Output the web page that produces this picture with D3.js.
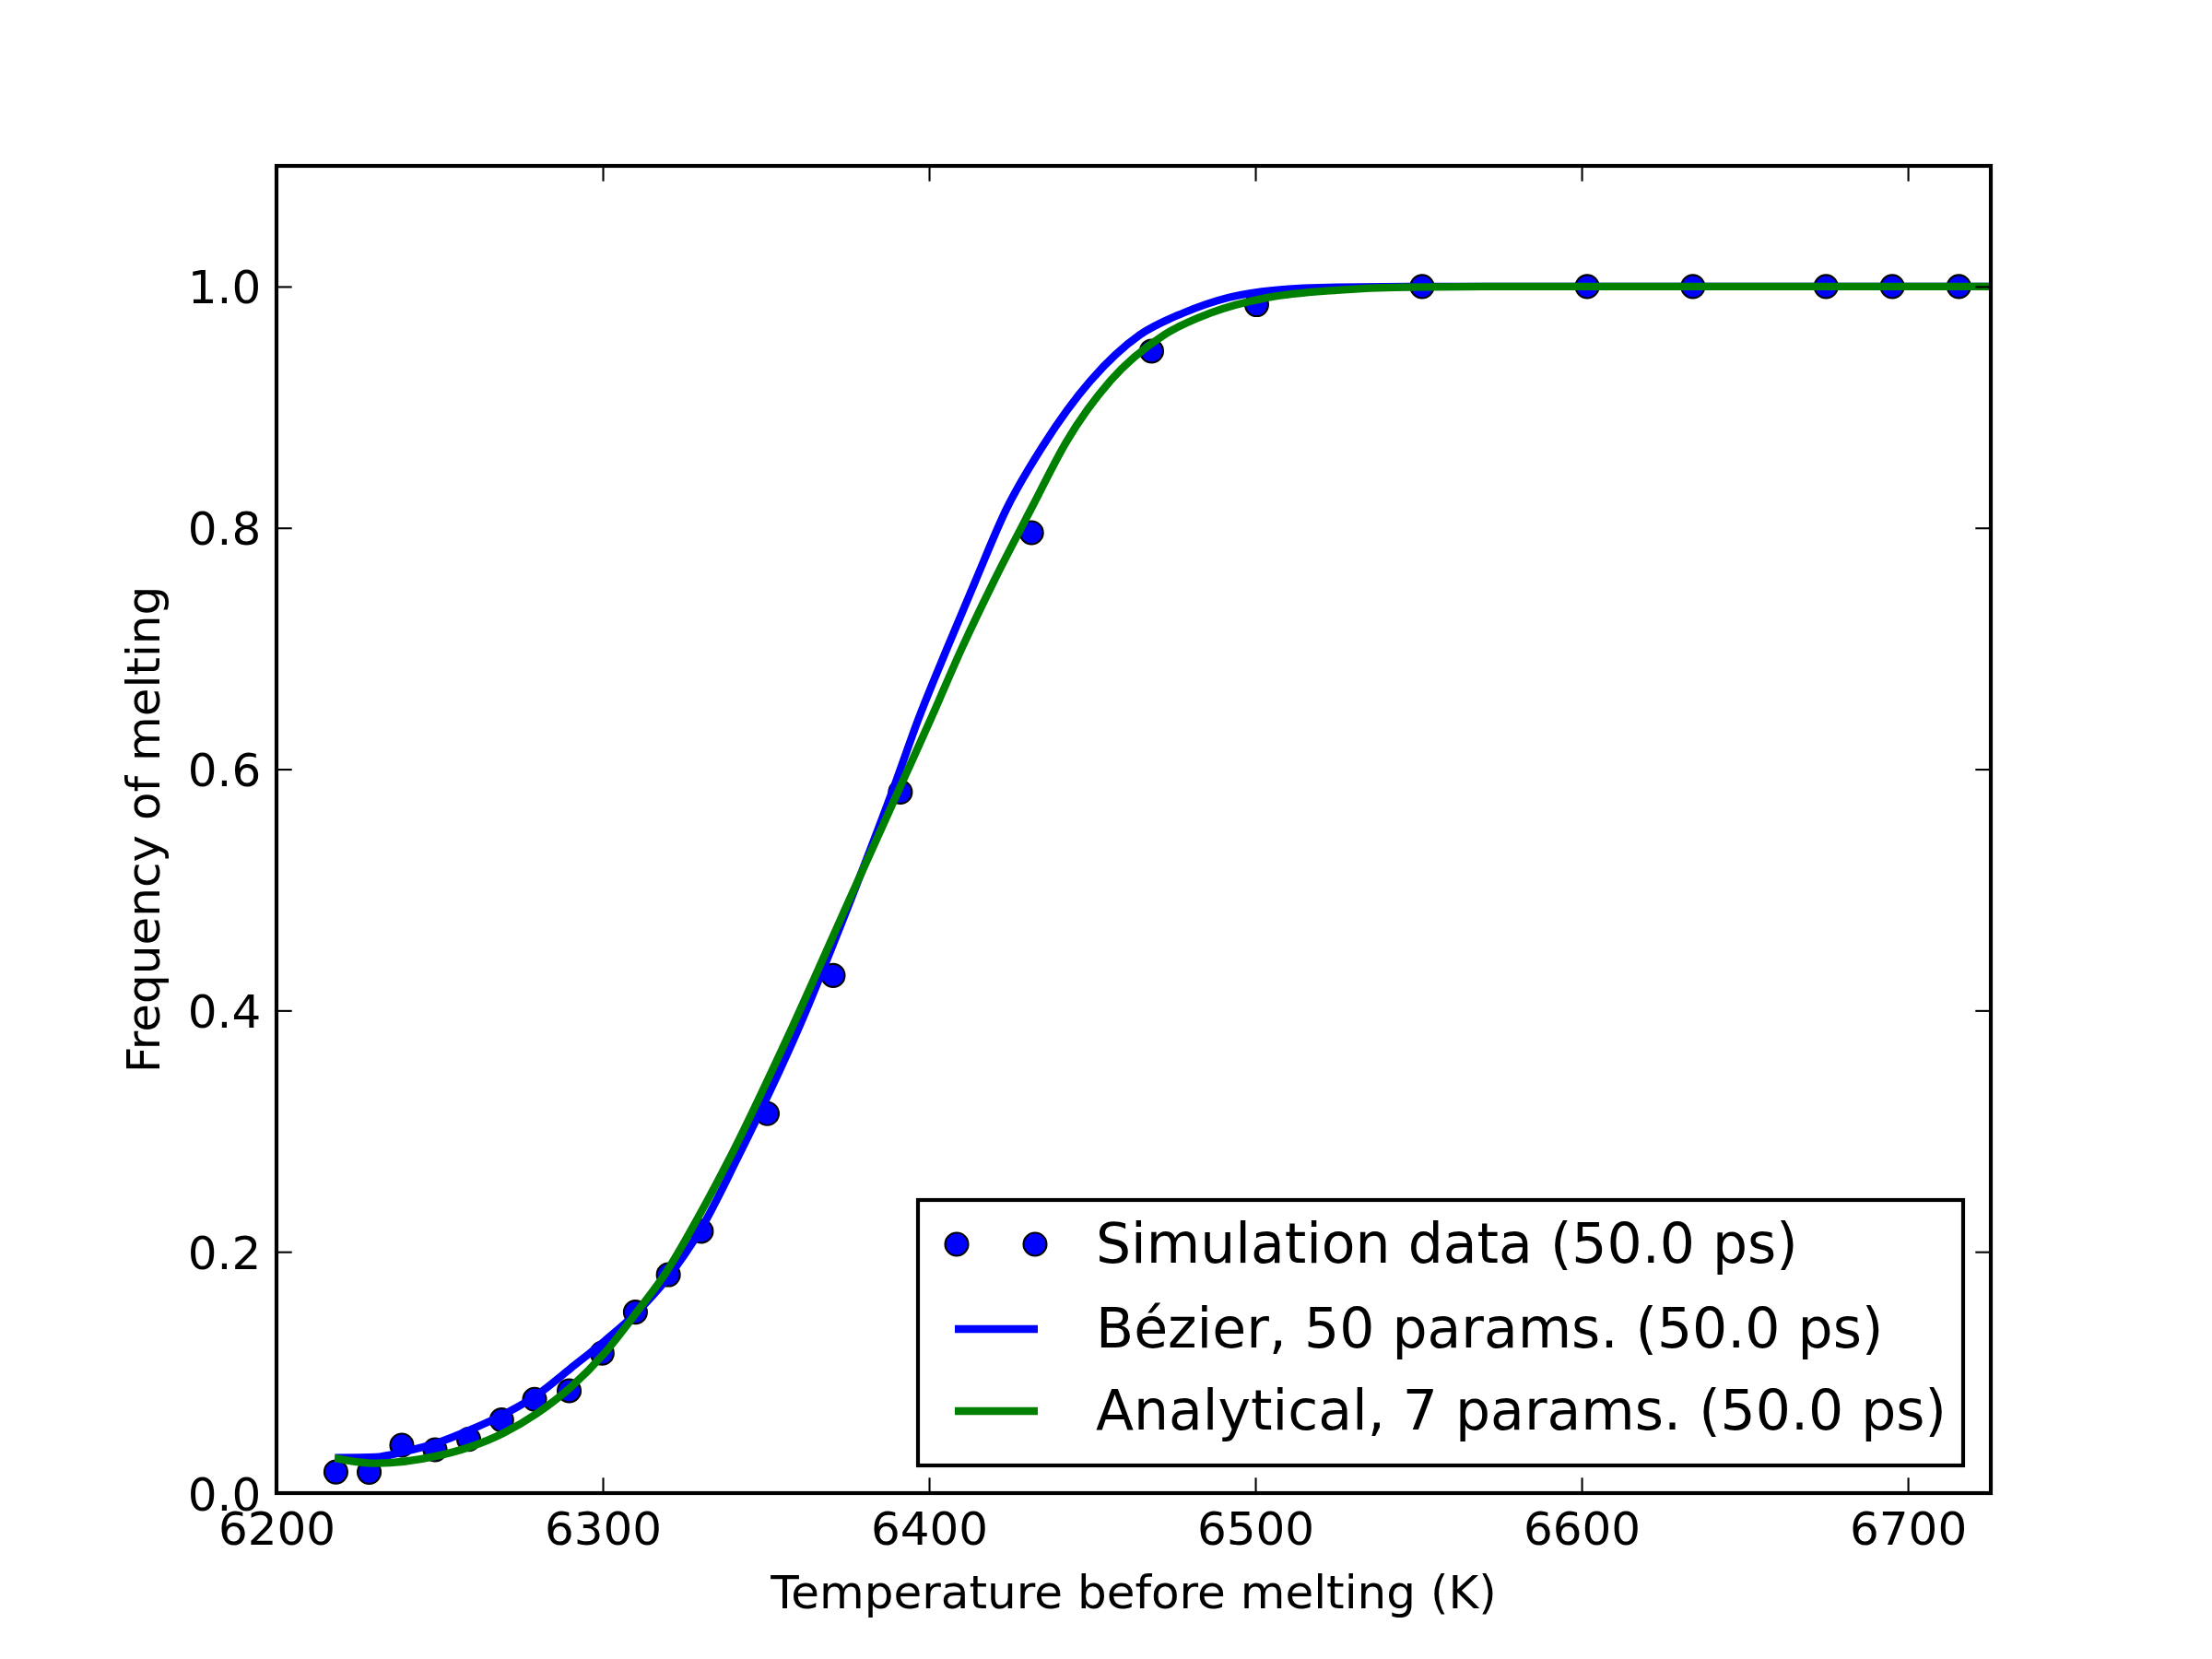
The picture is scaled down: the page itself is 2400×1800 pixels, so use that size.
<!DOCTYPE html>
<html>
<head>
<meta charset="utf-8">
<script src="https://d3js.org/d3.v7.min.js"></script>
<style>
  body { margin: 0; background: #fff; }
  svg { font-family: "DejaVu Sans", sans-serif; }
</style>
</head>
<body>
<svg width="2400" height="1800"></svg>
<script>
// シミュレーション点 (温度, 融解頻度)
const simT = [6218.2, 6228.4, 6238.4, 6248.6, 6258.9, 6269.0, 6279.1, 6289.7, 6299.8, 6310.0,
    6320.1, 6330.2, 6350.4, 6370.6, 6391.2, 6431.4, 6468.2, 6500.4, 6551.1, 6601.7,
    6634.1, 6674.9, 6695.2, 6715.6];
const simY = [0.0175, 0.0173, 0.0397, 0.0359, 0.0446, 0.0606, 0.0777, 0.0848, 0.116, 0.150,
    0.181, 0.217, 0.3145, 0.429, 0.581, 0.796, 0.9465, 0.985, 1.0, 1.0,
    1.0, 1.0, 1.0, 1.0];

// Bézier fit
const bezT = [6217.9, 6230.4, 6239.1, 6248.9, 6259.2, 6269.5, 6279.9, 6290.2, 6300.5, 6310.5,
    6319.5, 6330.4, 6340.8, 6360.3, 6375.6, 6390.0, 6396.8, 6405.5, 6414.2, 6423.6,
    6434.9, 6449.5, 6464.6, 6477.8, 6491.9, 6506, 6525, 6550, 6600, 6726];
const bezY = [0.0293, 0.0298, 0.0344, 0.0413, 0.0522, 0.065, 0.0815, 0.1035, 0.126, 0.150,
    0.1771, 0.2203, 0.275, 0.387, 0.489, 0.591, 0.642, 0.70, 0.756, 0.815,
    0.868, 0.922, 0.960, 0.978, 0.991, 0.997, 0.9995, 1.0, 1.0, 1.0];

// Analytical fit
const anaT = [6217.9, 6230.4, 6248.9, 6259.2, 6269.5, 6279.9, 6290.2, 6300.5, 6310.5, 6319.5,
    6330.4, 6338.4, 6358.2, 6375.1, 6392.1, 6400.6, 6410, 6419.9, 6432.1, 6442,
    6455.6, 6472.1, 6486.2, 6504.1, 6524.9, 6545, 6570, 6600, 6726];
const anaY = [0.029, 0.0247, 0.0306, 0.0382, 0.0497, 0.0662, 0.0878, 0.1159, 0.1503, 0.1834,
    0.2343, 0.275, 0.387, 0.489, 0.591, 0.642, 0.70, 0.756, 0.820, 0.871,
    0.922, 0.960, 0.978, 0.991, 0.997, 0.9995, 1.0, 1.0, 1.0];

const xTicks = [6200, 6300, 6400, 6500, 6600, 6700];
const yTicks = [0.0, 0.2, 0.4, 0.6, 0.8, 1.0];
const legendLabels = [
    "Simulation data (50.0 ps)",
    "Bézier, 50 params. (50.0 ps)",
    "Analytical, 7 params. (50.0 ps)",
];

const svg = d3.select("svg");
const margin = { top: 180, right: 240, bottom: 180, left: 300 };
const width = Number(svg.attr("width")) - margin.left - margin.right;
const height = Number(svg.attr("height")) - margin.top - margin.bottom;
const g = svg.append("g")
    .attr("transform", `translate(${margin.left},${margin.top})`);

const xScale = d3.scaleLinear().domain([6200, 6725.4]).range([0, width]);
const yScale = d3.scaleLinear().domain([0, 1.1]).range([height, 0]);

const tickLen = 16.7;
const fontSize = 50;

g.append("clipPath").attr("id", "clip")
    .append("rect").attr("width", width).attr("height", height);

// 点
const pts = d3.range(simT.length);
g.append("g")
    .attr("clip-path", "url(#clip)")
    .selectAll("circle")
    .data(pts)
    .enter()
    .append("circle")
    .attr("cx", i => xScale(simT[i]))
    .attr("cy", i => yScale(simY[i]))
    .attr("r", 12.5)
    .attr("fill", "#0000ff")
    .attr("stroke", "#000")
    .attr("stroke-width", 2.1);

const line = (ts, ys) => d3.line()
    .x(i => xScale(ts[i]))
    .y(i => yScale(ys[i]))
    .curve(d3.curveMonotoneX)(d3.range(ts.length));

g.append("path")
    .attr("d", line(bezT, bezY))
    .attr("clip-path", "url(#clip)")
    .attr("stroke", "#0000ff")
    .attr("stroke-width", 8.33)
    .attr("fill", "none");
g.append("path")
    .attr("d", line(anaT, anaY))
    .attr("clip-path", "url(#clip)")
    .attr("stroke", "#008000")
    .attr("stroke-width", 8.33)
    .attr("fill", "none");

// x軸
g.append("g")
    .attr("transform", `translate(0, ${height})`)
    .call(d3.axisBottom(xScale).tickValues(xTicks).tickSize(-tickLen).tickPadding(tickLen + 4)
        .tickFormat(d3.format("d")));
g.append("g")
    .call(d3.axisTop(xScale).tickValues(xTicks).tickSize(-tickLen).tickFormat(""));
// y軸
const yAxis = g.append("g")
    .call(d3.axisLeft(yScale).tickValues(yTicks).tickSize(-tickLen).tickPadding(tickLen)
        .tickFormat(d3.format(".1f")));
g.append("g")
    .attr("transform", `translate(${width}, 0)`)
    .call(d3.axisRight(yScale).tickValues(yTicks).tickSize(-tickLen).tickFormat(""));

g.selectAll(".domain").remove();
g.selectAll(".tick line").attr("stroke", "#000").attr("stroke-width", 2.1);
g.selectAll(".tick text")
    .attr("font-family", "DejaVu Sans")
    .attr("font-size", fontSize)
    .attr("fill", "#000");
yAxis.selectAll(".tick text").attr("dy", "0.36em");

// 枠
g.append("rect")
    .attr("width", width)
    .attr("height", height)
    .attr("fill", "none")
    .attr("stroke", "#000")
    .attr("stroke-width", 4.17);

// ラベル
g.append("text")
    .attr("x", width / 2)
    .attr("y", 1745 - margin.top)
    .attr("text-anchor", "middle")
    .attr("font-size", fontSize)
    .text("Temperature before melting (K)");
g.append("text")
    .attr("transform", `translate(${173 - margin.left}, ${height / 2}) rotate(-90)`)
    .attr("text-anchor", "middle")
    .attr("font-size", fontSize)
    .text("Frequency of melting");

// 凡例
const leg = svg.append("g");
leg.append("rect")
    .attr("x", 996).attr("y", 1302)
    .attr("width", 2130 - 996).attr("height", 1590 - 1302)
    .attr("fill", "#fff")
    .attr("stroke", "#000")
    .attr("stroke-width", 4.17);
const rowY = [1350, 1442, 1531];
const handleX = [1038, 1123];
leg.selectAll("circle")
    .data(handleX)
    .enter()
    .append("circle")
    .attr("cx", d => d)
    .attr("cy", rowY[0])
    .attr("r", 12.5)
    .attr("fill", "#0000ff")
    .attr("stroke", "#000")
    .attr("stroke-width", 2.1);
const legColors = ["#0000ff", "#008000"];
legColors.forEach((c, i) => {
    leg.append("line")
        .attr("x1", 1036).attr("x2", 1126)
        .attr("y1", rowY[i + 1]).attr("y2", rowY[i + 1])
        .attr("stroke", c)
        .attr("stroke-width", 8.33);
});
leg.selectAll("text")
    .data(legendLabels)
    .enter()
    .append("text")
    .attr("x", 1189)
    .attr("y", (d, i) => rowY[i] + 20)
    .attr("font-size", 60)
    .text(d => d);
</script>
</body>
</html>
